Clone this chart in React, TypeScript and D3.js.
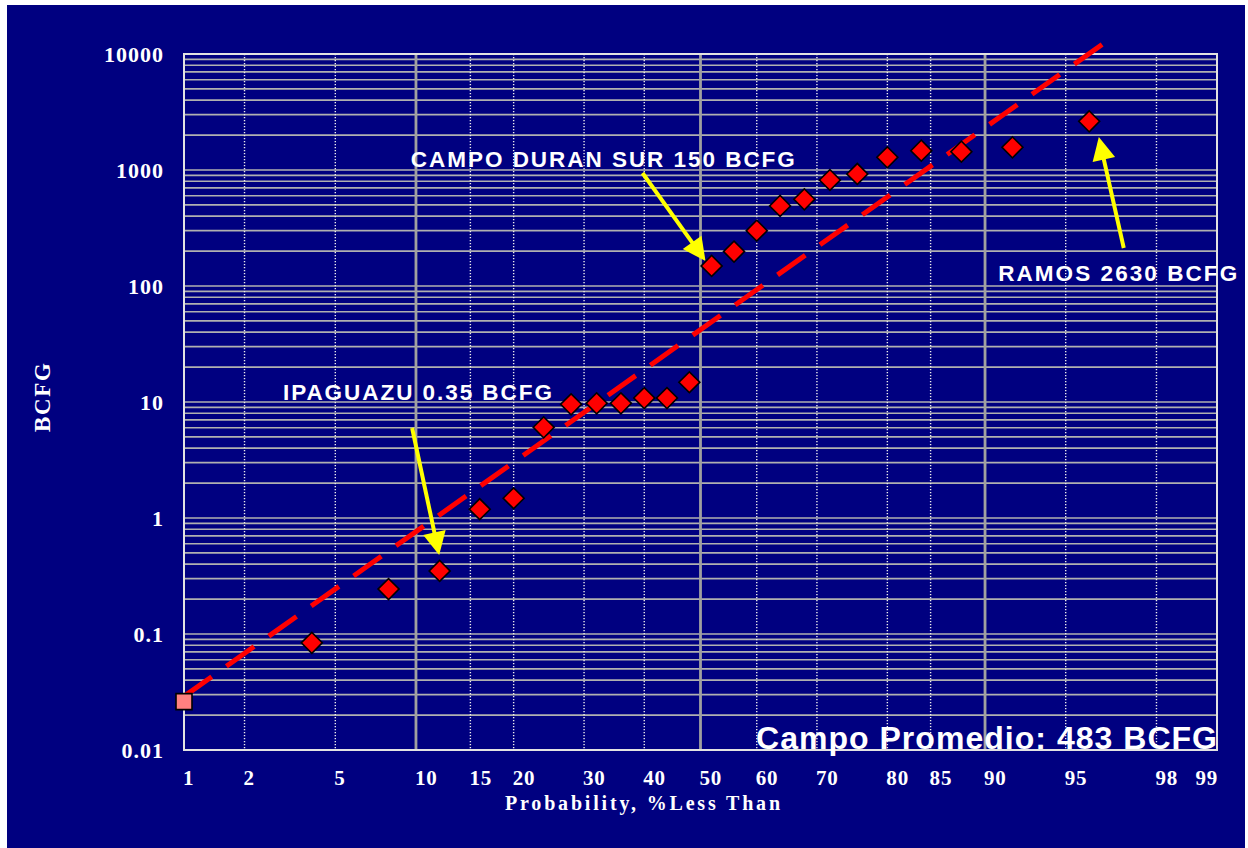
import React from "react";
import * as d3 from "d3";

// ---- Data ----
const fieldProbabilities = [4, 8, 12, 16, 20, 24, 28, 32, 36, 40, 44, 48, 52, 56, 60, 64, 68, 72, 76, 80, 84, 88, 92, 96];
const fieldReserves = [0.084, 0.244, 0.35, 1.19, 1.48, 6.05, 9.55, 9.75, 9.75, 10.8, 10.8, 14.8, 149, 198, 300, 490, 559, 820, 924, 1287, 1467, 1438, 1569, 2630];

const smallestProbability = [1];
const smallestReserve = [0.0261];

const fitProbabilities = [1, 96.5];
const fitReserves = [0.029, 12200];

const xTickProbs = [1, 2, 5, 10, 15, 20, 30, 40, 50, 60, 70, 80, 85, 90, 95, 98, 99];
const xMajorProbs = [10, 50, 90];
const yTickValues = [0.01, 0.1, 1, 10, 100, 1000, 10000];
const yTickLabels = ["0.01", "0.1", "1", "10", "100", "1000", "10000"];

const annotationTexts = ["CAMPO DURAN SUR 150 BCFG", "IPAGUAZU 0.35 BCFG", "RAMOS 2630 BCFG"];
const annotationProbs = [9.6, 3.0, 91.0];
const annotationValues = [1062, 10.4, 110];
const arrowFromProbs = [39.7, 9.7, 97.17];
const arrowFromValues = [942, 5.97, 212.6];
const arrowToProbs = [50.9, 11.96, 96.36];
const arrowToValues = [164, 0.48, 1923];

const summaryText = "Campo Promedio: 483 BCFG";
const xTitle = "Probability, %Less Than";
const yTitle = "BCFG";

// inverse standard normal CDF (Acklam)
function normInv(p: number): number {
  const a = [-3.969683028665376e1, 2.209460984245205e2, -2.759285104469687e2, 1.38357751867269e2, -3.066479806614716e1, 2.506628277459239];
  const b = [-5.447609879822406e1, 1.615858368580409e2, -1.556989798598866e2, 6.680131188771972e1, -1.328068155288572e1];
  const c = [-7.784894002430293e-3, -3.223964580411365e-1, -2.400758277161838, -2.549732539343734, 4.374664141464968, 2.938163982698783];
  const d = [7.784695709041462e-3, 3.224671290700398e-1, 2.445134137142996, 3.754408661907416];
  const pl = 0.02425;
  if (p < pl) {
    const q = Math.sqrt(-2 * Math.log(p));
    return (((((c[0] * q + c[1]) * q + c[2]) * q + c[3]) * q + c[4]) * q + c[5]) / ((((d[0] * q + d[1]) * q + d[2]) * q + d[3]) * q + 1);
  }
  if (p <= 1 - pl) {
    const q = p - 0.5;
    const r = q * q;
    return ((((((a[0] * r + a[1]) * r + a[2]) * r + a[3]) * r + a[4]) * r + a[5]) * q) / (((((b[0] * r + b[1]) * r + b[2]) * r + b[3]) * r + b[4]) * r + 1);
  }
  const q = Math.sqrt(-2 * Math.log(1 - p));
  return -(((((c[0] * q + c[1]) * q + c[2]) * q + c[3]) * q + c[4]) * q + c[5]) / ((((d[0] * q + d[1]) * q + d[2]) * q + d[3]) * q + 1);
}

const SERIF = "'Liberation Serif', 'Times New Roman', serif";
const SANS = "'Liberation Sans', Arial, sans-serif";

export default function App() {
  const W = 1248, H = 848;
  const left = 184, right = 1217, top = 54, bottom = 750;

  const zScale = d3.scaleLinear().domain([normInv(0.01), normInv(0.99)]).range([left, right]);
  const x = (p: number) => zScale(normInv(p / 100));
  const y = d3.scaleLog().domain([0.01, 10000]).range([bottom, top]);

  const minorY: number[] = [];
  for (let e = -2; e <= 3; e++) {
    for (let m = 1; m <= 9; m++) {
      const v = m * Math.pow(10, e);
      if (m === 1 && e === -2) continue;
      minorY.push(v);
    }
  }
  const dottedProbs = xTickProbs.filter((p) => p !== 1 && p !== 99 && !xMajorProbs.includes(p));

  const fitLine = d3
    .line<number>()
    .x((_, i) => x(fitProbabilities[i]))
    .y((_, i) => y(fitReserves[i]))(fitProbabilities) as string;

  const diamond = d3.symbol().type(d3.symbolSquare).size(220)() as string;
  const square = d3.symbol().type(d3.symbolSquare).size(256)() as string;

  const annotationWidths = [384, 269, 239];

  const arrows = arrowFromProbs.map((_, i) => {
    const x1 = x(arrowFromProbs[i]), y1 = y(arrowFromValues[i]);
    const x2 = x(arrowToProbs[i]), y2 = y(arrowToValues[i]);
    const dx = x2 - x1, dy = y2 - y1;
    const len = Math.hypot(dx, dy);
    const ux = dx / len, uy = dy / len;
    const hl = 23, hw = 11.5;
    const bx = x2 - ux * hl, by = y2 - uy * hl;
    return {
      x1, y1, lx: bx + ux * 3, ly: by + uy * 3,
      head: `${x2},${y2} ${bx - uy * hw},${by + ux * hw} ${bx + uy * hw},${by - ux * hw}`,
    };
  });

  return (
    <svg width={W} height={H} style={{ position: "absolute", left: 0, top: 0, display: "block" }}>
      <rect x={0} y={0} width={W} height={H} fill="#ffffff" />
      <rect x={7} y={5} width={1238} height={843} fill="#000080" />

      {/* horizontal grid */}
      {minorY.map((v, i) => (
        <line key={"h" + i} x1={left} x2={right} y1={y(v)} y2={y(v)} stroke="#b0b0b0" strokeWidth={1.7} />
      ))}
      {/* dotted verticals */}
      {dottedProbs.map((p) => (
        <line key={"d" + p} x1={x(p)} x2={x(p)} y1={top} y2={bottom} stroke="#ececec" strokeWidth={1.4} strokeDasharray="1.3 1.7" />
      ))}
      {/* solid verticals */}
      {xMajorProbs.map((p) => (
        <line key={"m" + p} x1={x(p)} x2={x(p)} y1={top} y2={bottom} stroke="#a0a0a0" strokeWidth={2.8} />
      ))}
      {/* border */}
      <rect x={left} y={top} width={right - left} height={bottom - top} fill="none" stroke="#e2e2e2" strokeWidth={2} />

      {/* y tick labels */}
      {yTickValues.map((v, i) => (
        <text key={"yt" + i} x={164} y={y(v) + 7.5} textAnchor="end" fill="#ffffff" fontFamily={SERIF} fontWeight="bold" fontSize={22} letterSpacing={1}>
          {yTickLabels[i]}
        </text>
      ))}
      {/* x tick labels */}
      {xTickProbs.map((p) => (
        <text key={"xt" + p} x={p === 99 ? right + 1 : x(p) - 1} y={785} textAnchor={p === 99 ? "end" : "start"} fill="#ffffff" fontFamily={SERIF} fontWeight="bold" fontSize={21} letterSpacing={0.8}>
          {String(p)}
        </text>
      ))}
      <text x={505} y={810} fill="#ffffff" fontFamily={SERIF} fontWeight="bold" fontSize={20} textLength={275} lengthAdjust="spacing">
        {xTitle}
      </text>
      <text transform="translate(50,397.5) rotate(-90)" textAnchor="middle" fill="#ffffff" fontFamily={SERIF} fontWeight="bold" fontSize={23} textLength={69} lengthAdjust="spacing">
        {yTitle}
      </text>

      {/* fit line */}
      <path d={fitLine} fill="none" stroke="#ff0000" strokeWidth={5} strokeDasharray="34 18" />

      {/* annotations */}
      {annotationTexts.map((t, i) => (
        <text key={"an" + i} x={x(annotationProbs[i])} y={y(annotationValues[i])} fill="#ffffff" fontFamily={SANS} fontWeight="bold" fontSize={22.5} textLength={annotationWidths[i]} lengthAdjust="spacing">
          {t}
        </text>
      ))}
      {arrows.map((a, i) => (
        <g key={"ar" + i}>
          <line x1={a.x1} y1={a.y1} x2={a.lx} y2={a.ly} stroke="#ffff00" strokeWidth={4} />
          <polygon points={a.head} fill="#ffff00" />
        </g>
      ))}

      {/* markers */}
      {smallestProbability.map((p, i) => (
        <path key={"sq" + i} d={square} transform={`translate(${x(p)},${y(smallestReserve[i])})`} fill="#ff8080" stroke="#000000" strokeWidth={1.6} />
      ))}
      {fieldProbabilities.map((p, i) => (
        <path key={"pt" + i} d={diamond} transform={`translate(${x(p)},${y(fieldReserves[i])}) rotate(45)`} fill="#ff0000" stroke="#000000" strokeWidth={1.6} />
      ))}

      <text x={756} y={749} fill="#ffffff" fontFamily={SANS} fontWeight="bold" fontSize={32} textLength={461} lengthAdjust="spacing">
        {summaryText}
      </text>
    </svg>
  );
}
